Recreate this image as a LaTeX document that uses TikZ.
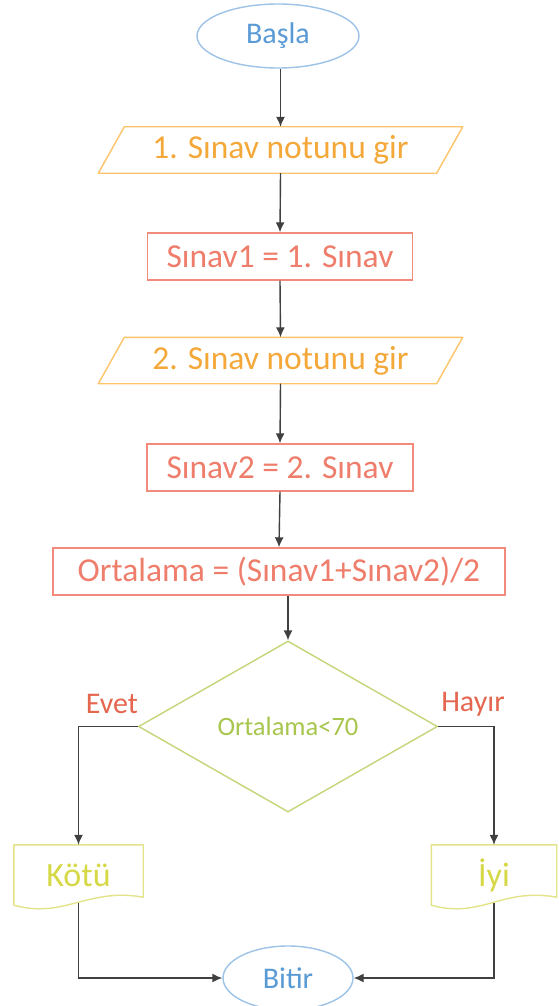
\documentclass[tikz,border=0pt]{standalone}
\usepackage{fontspec}
\setmainfont{Carlito}
\usetikzlibrary{arrows.meta,shapes.geometric,calc}

\definecolor{termline}{HTML}{9DC3E6}
\definecolor{termtext}{HTML}{5B9BD5}
\definecolor{ioline}{HTML}{FDC46A}
\definecolor{iotext}{HTML}{F5A83A}
\definecolor{procline}{HTML}{F28B7C}
\definecolor{proctext}{HTML}{EF7D6B}
\definecolor{decline}{HTML}{C3D77A}
\definecolor{dectext}{HTML}{A8C64E}
\definecolor{branchtext}{HTML}{E5664F}
\definecolor{docline}{HTML}{E3E38A}
\definecolor{doctext}{HTML}{D6D845}
\definecolor{linkcol}{HTML}{404040}

\begin{document}
\begin{tikzpicture}[x=1pt,y=-1pt,
  terminal/.style={ellipse, draw=termline, text=termtext, line width=1.4pt,
    inner sep=0pt, minimum width=#1, minimum height=64pt,
    font=\fontsize{30}{36}\selectfont},
  iobox/.style={rectangle, inner sep=0pt, minimum width=338pt, minimum height=46pt,
    text=iotext, font=\fontsize{33.5}{40}\selectfont},
  ioline/.style={draw=ioline, line width=1.4pt, line join=round},
  procbox/.style={rectangle, draw=procline, text=proctext, line width=1.4pt,
    inner sep=0pt, minimum width=#1, minimum height=47pt,
    font=\fontsize{33.5}{40}\selectfont},
  decision/.style={diamond, draw=decline, text=dectext, line width=1.4pt,
    inner sep=0pt, minimum width=299pt, minimum height=171pt,
    font=\fontsize{26.5}{32}\selectfont},
  branch/.style={text=branchtext, inner sep=0pt, font=\fontsize{30}{36}\selectfont},
  docbox/.style={rectangle, inner sep=0pt, minimum width=#1, minimum height=60pt,
    text=doctext, font=\fontsize{34}{40}\selectfont},
  docline/.style={draw=docline, line width=1.4pt, line join=round},
  link/.style={draw=linkcol, line width=1.4pt, -{Latex[length=10pt,width=9pt]}}
]
\fill[white] (0,0) rectangle (558,1006);
\useasboundingbox (0,0) rectangle (558,1006);

% main column
\node[terminal=162pt] (start) at (278,36) {Başla};
\node[iobox] (in1) at (280.5,150) {1. Sınav notunu gir};
\node[procbox=265pt] (s1) at (280,256.5) {Sınav1 = 1. Sınav};
\node[iobox] (in2) at (280.5,360.5) {2. Sınav notunu gir};
\node[procbox=266pt] (s2) at (280,467.5) {Sınav2 = 2. Sınav};
\node[procbox=452pt] (avg) at (279,571.5) {Ortalama = (Sınav1+Sınav2)/2};
\node[decision] (dec) at (288,726.5) {Ortalama<70};

% branch labels
\node[branch] (yes) at (112,704) {Evet};
\node[branch] (no) at (473,704) {Hayır};

% outputs and end
\node[docbox=129pt] (bad) at (78.5,875) {Kötü};
\node[docbox=125pt] (good) at (494,875) {İyi};
\node[terminal=130pt] (stop) at (288,978) {Bitir};

% input parallelograms
\draw[ioline] ($(in1.north west)+(13,0)$) -- ($(in1.north east)+(13,0)$)
  -- ($(in1.south east)+(-13,0)$) -- ($(in1.south west)+(-13,0)$) -- cycle;
\draw[ioline] ($(in2.north west)+(13,0)$) -- ($(in2.north east)+(13,0)$)
  -- ($(in2.south east)+(-13,0)$) -- ($(in2.south west)+(-13,0)$) -- cycle;

% document outlines with wavy bottom
\foreach \d in {bad,good}{
  \draw[docline] (\d.north west) -- (\d.north east) -- ($(\d.south east)+(0,-8)$)
    .. controls ($(\d.south east)+(-55,-18)$) and ($(\d.south west)+(50,14)$) .. (\d.south west)
    -- cycle;
}

% connectors
\draw[link] (in1.north |- start.south) -- (in1.north);
\draw[link] (in1.south) -- (s1.north);
\draw[link] (s1.south) -- (in2.north);
\draw[link] (in2.south) -- (s2.north);
\draw[link] (s2.south) -- (avg.north);
\draw[link] (avg.south -| dec.north) -- (dec.north);
\draw[link] (dec.west) -| (bad.north);
\draw[link] (dec.east) -| (good.north);
\draw[link] ($(bad.south)+(0,-2)$) |- (stop.west);
\draw[link] ($(good.south)+(0,-2)$) |- (stop.east);
\end{tikzpicture}
\end{document}
